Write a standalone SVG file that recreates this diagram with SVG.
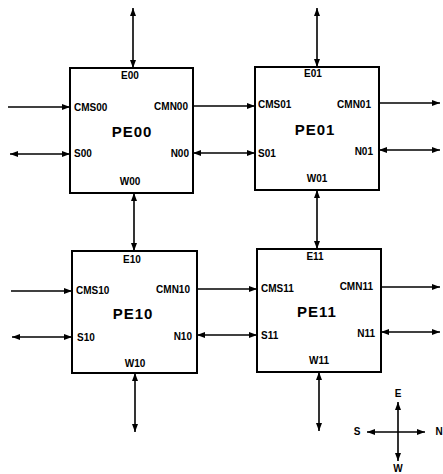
<svg xmlns="http://www.w3.org/2000/svg" width="443" height="474" viewBox="0 0 443 474">
<style>
.box{fill:#fff;stroke:#000;stroke-width:2}
.c line{stroke:#000;stroke-width:1.6}
.lb{font-family:"Liberation Sans",Arial,sans-serif;font-weight:bold;font-size:10px;fill:#000}
.big{font-family:"Liberation Sans",Arial,sans-serif;font-weight:bold;font-size:15px;letter-spacing:1px;fill:#000;text-anchor:middle}
.m{text-anchor:middle}
.e{text-anchor:end}
.d line{marker-start:url(#ah);marker-end:url(#ah)}
.s line{marker-end:url(#ah)}
</style>
<defs>
<marker id="ah" viewBox="0 0 8 6" refX="8" refY="3" markerWidth="8" markerHeight="6" markerUnits="userSpaceOnUse" orient="auto-start-reverse">
<path d="M0,0 L8,3 L0,6 Z" fill="#000"/>
</marker>
</defs>
<rect width="443" height="474" fill="#fff"/>
<g id="PE00">
<rect class="box" x="70" y="68" width="123" height="125"/>
<text class="lb m" x="130" y="79">E00</text>
<text class="lb" x="74" y="111">CMS00</text>
<text class="lb e" x="188" y="110">CMN00</text>
<text class="big" x="132" y="137">PE00</text>
<text class="lb" x="74" y="157">S00</text>
<text class="lb e" x="189" y="157">N00</text>
<text class="lb m" x="130" y="185">W00</text>
</g>
<g id="PE01">
<rect class="box" x="255" y="67" width="124" height="123"/>
<text class="lb m" x="313" y="77">E01</text>
<text class="lb" x="258" y="108">CMS01</text>
<text class="lb e" x="371" y="108">CMN01</text>
<text class="big" x="315" y="135">PE01</text>
<text class="lb" x="258" y="157">S01</text>
<text class="lb e" x="373" y="155">N01</text>
<text class="lb m" x="317" y="182">W01</text>
</g>
<g id="PE10">
<rect class="box" x="72" y="251" width="125" height="122"/>
<text class="lb m" x="132" y="263">E10</text>
<text class="lb" x="76" y="294">CMS10</text>
<text class="lb e" x="190" y="293">CMN10</text>
<text class="big" x="133" y="319">PE10</text>
<text class="lb" x="77" y="341">S10</text>
<text class="lb e" x="192" y="340">N10</text>
<text class="lb m" x="135" y="367">W10</text>
</g>
<g id="PE11">
<rect class="box" x="257" y="249" width="124" height="123"/>
<text class="lb m" x="315" y="260">E11</text>
<text class="lb" x="261" y="292">CMS11</text>
<text class="lb e" x="373" y="290">CMN11</text>
<text class="big" x="317" y="317">PE11</text>
<text class="lb" x="261" y="339">S11</text>
<text class="lb e" x="375" y="337">N11</text>
<text class="lb m" x="319" y="364">W11</text>
</g>
<g id="connectors" class="c">
<g class="d">
<line x1="133" y1="8" x2="133" y2="68"/>
<line x1="10" y1="154" x2="70" y2="154"/>
<line x1="193" y1="153" x2="255" y2="153"/>
<line x1="134" y1="193" x2="134" y2="251"/>
<line x1="317" y1="8" x2="317" y2="67"/>
<line x1="379" y1="150" x2="440" y2="150"/>
<line x1="317" y1="190" x2="317" y2="249"/>
<line x1="12" y1="337" x2="72" y2="337"/>
<line x1="197" y1="335" x2="257" y2="335"/>
<line x1="135" y1="373" x2="135" y2="432"/>
<line x1="381" y1="332" x2="440" y2="332"/>
<line x1="319" y1="372" x2="319" y2="431"/>
</g>
<g class="s">
<line x1="8" y1="107" x2="70" y2="107"/>
<line x1="193" y1="106" x2="255" y2="106"/>
<line x1="379" y1="103" x2="440" y2="103"/>
<line x1="11" y1="291" x2="72" y2="291"/>
<line x1="197" y1="289" x2="257" y2="289"/>
<line x1="381" y1="287" x2="440" y2="287"/>
</g>
</g>
<g id="compass" class="c">
<g class="d">
<line x1="398" y1="402" x2="398" y2="461"/>
<line x1="367" y1="432" x2="425" y2="432"/>
</g>
<text class="lb m" x="398" y="397">E</text>
<text class="lb m" x="398" y="472">W</text>
<text class="lb m" x="357" y="435">S</text>
<text class="lb m" x="439" y="435">N</text>
</g>
</svg>
